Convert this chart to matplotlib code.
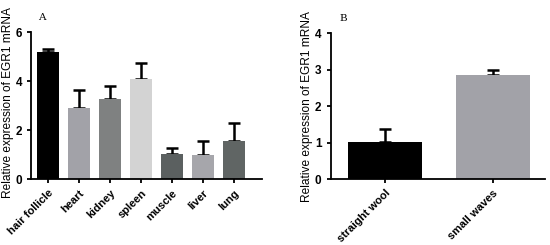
import numpy as np
import matplotlib.pyplot as plt

plt.rcParams['font.family'] = ['Liberation Sans', 'DejaVu Sans']
plt.rcParams['font.weight'] = 'bold'

tissues = ['hair follicle', 'heart', 'kidney', 'spleen', 'muscle', 'liver', 'lung']
tissue_mean = [5.18, 2.90, 3.28, 4.08, 1.02, 1.00, 1.57]
tissue_sd = [0.14, 0.73, 0.52, 0.65, 0.26, 0.55, 0.72]
tissue_colors = ['#000000', '#a2a2a8', '#7f8181', '#d3d3d3', '#5b6060', '#a6a6ab', '#606564']

wool = ['straight wool', 'small waves']
wool_mean = [1.02, 2.85]
wool_sd = [0.35, 0.14]
wool_colors = ['#000000', '#a2a2a8']

ylab = 'Relative expression of EGR1 mRNA'

fig = plt.figure(figsize=(5.5, 2.45), dpi=100)
axA = fig.add_axes([0.0564, 0.269, 0.42, 0.6])
axB = fig.add_axes([0.601, 0.269, 0.39, 0.596])


def panel(ax, names, mean, sd, colors, width, ymax, yticks, letter, lx):
    x = np.arange(len(names))
    ax.errorbar(x, mean, yerr=[np.zeros(len(sd)), sd], fmt='none', ecolor='black',
                elinewidth=1.8, capsize=4, capthick=1.8, zorder=1)
    ax.bar(x, mean, width=width, color=colors, zorder=2)
    ax.set_ylim(0, ymax)
    ax.set_yticks(yticks)
    ax.set_xticks(x)
    ax.set_xticklabels(names, rotation=45, ha='right', rotation_mode='anchor', fontsize=8)
    ax.tick_params(axis='y', labelsize=8.5, width=1.3, length=3)
    ax.tick_params(axis='x', width=1.3, length=3)
    for s in ['top', 'right']:
        ax.spines[s].set_visible(False)
    for s in ['left', 'bottom']:
        ax.spines[s].set_linewidth(1.3)
    ax.set_ylabel(ylab, fontsize=8.6, fontweight='normal')
    ax.text(lx, 1.1, letter, transform=ax.transAxes, family='DejaVu Serif',
            fontsize=7.5, fontweight='normal', va='center')


panel(axA, tissues, tissue_mean, tissue_sd, tissue_colors, 0.7, 6, [0, 2, 4, 6], 'A', 0.03)
axA.set_xlim(-0.55, 6.9)
axA.yaxis.set_label_coords(-0.074, 0.52)
panel(axB, wool, wool_mean, wool_sd, wool_colors, 0.685, 4, [0, 1, 2, 3, 4], 'B', 0.04)
axB.set_xlim(-0.5, 1.48)
axB.yaxis.set_label_coords(-0.084, 0.5)

fig.savefig('out.png', dpi=100)
